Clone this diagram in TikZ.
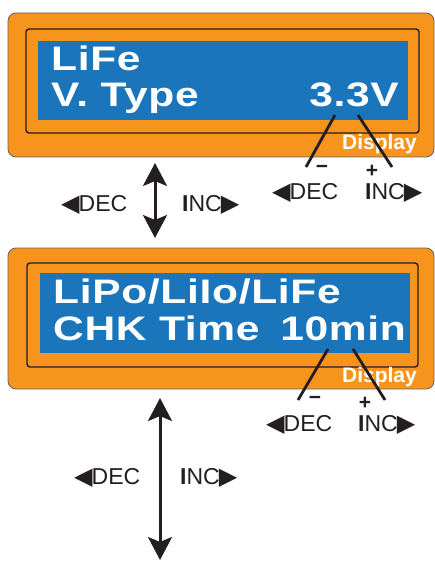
\documentclass[tikz,border=0pt]{standalone}
\usepackage{fontspec}
\setmainfont{Liberation Sans}
\newfontfamily\lcdfont{Liberation Sans}[FakeStretch=1.25,LetterSpace=2]
\newfontfamily\symfont{DejaVu Sans}
\usetikzlibrary{arrows.meta,positioning}
\definecolor{chOrange}{RGB}{247,148, 29}
\definecolor{chBlue}  {RGB}{ 27,117,187}
\definecolor{chInk}   {RGB}{ 35, 31, 32}
\newcommand{\declab}{{\symfont\fontsize{24}{24}\selectfont ◀}\kern-1pt DEC}
\newcommand{\inclab}{{\bfseries I}NC\kern-1pt{\symfont\fontsize{24}{24}\selectfont ▶}}

\begin{document}
\begin{tikzpicture}[x=1pt,y=-1pt,
  casing/.style={fill=chOrange,draw=chInk!70,line width=0.8pt,rounded corners=8pt},
  bezel/.style={draw=chInk,line width=1.4pt,rounded corners=3pt},
  screen/.style={fill=chBlue},
  lcd/.style={font=\lcdfont\bfseries\fontsize{34}{34}\selectfont,text=white,inner sep=0pt},
  tag/.style={font=\bfseries\fontsize{21}{21}\selectfont,text=white,inner sep=0pt,anchor=base east},
  keylab/.style={font=\fontsize{23}{23}\selectfont,text=chInk,inner sep=0pt,anchor=west},
  sign/.style={font=\bfseries\fontsize{21}{21}\selectfont,text=chInk,inner sep=0pt},
  lead/.style={line width=2.8pt,chInk},
  updown/.style={line width=3pt,chInk,
    {Stealth[length=23pt,width=24pt,inset=5pt]}-{Stealth[length=23pt,width=24pt,inset=5pt]}}
]
\useasboundingbox (0,0) rectangle (435,561);
% Upper panel: cell type
\draw[casing] (8,13) rectangle (434,157);
\draw[bezel] (26,29) rectangle (419,133);
\fill[screen] (38,41) rectangle (408,120);
\node[lcd,anchor=base west] (typeA) at (51,71) {LiFe};
\node[lcd,anchor=base west] (typeB) at (51,107) {V. Type};
\node[lcd,anchor=base east] (typeV) at (399,107) {3.3V};
\node[tag] (dispA) at (417,150) {Display};
% Lower panel: check time
\draw[casing] (8,248) rectangle (434,389);
\draw[bezel] (27,263) rectangle (418,367);
\fill[screen] (40,273) rectangle (410,353);
\node[lcd,anchor=base west] (chkA) at (53,303) {LiPo/LiIo/LiFe};
\node[lcd,anchor=base west] (chkB) at (53,340) {CHK Time};
\node[lcd,anchor=base east] (chkV) at (406,340) {10min};
\node[tag] (dispB) at (417,382) {Display};
% Leads from the value to the keys
\coordinate (vA1) at (335,115);
\coordinate (vA2) at (306,167);
\coordinate (vA3) at (358,115);
\coordinate (vA4) at (392,167);
\draw[lead] (vA1) -- (vA2);
\draw[lead] (vA3) -- (vA4);
\node[sign] (minA) at (322,169) {−};
\node[sign] (plusA) at (372,171) {+};
\node[keylab] (decA) at (272,193) {\declab};
\node[keylab] (incA) at (365,193) {\inclab};
\coordinate (vB1) at (328,349);
\coordinate (vB2) at (298,400);
\coordinate (vB3) at (353,349);
\coordinate (vB4) at (385,400);
\draw[lead] (vB1) -- (vB2);
\draw[lead] (vB3) -- (vB4);
\node[sign] (minB) at (315,400) {−};
\node[sign] (plusB) at (365,403) {+};
\node[keylab] (decB) at (266,425) {\declab};
\node[keylab] (incB) at (358,425) {\inclab};
% Scroll arrows
\coordinate (upA) at (155,163);
\coordinate (dnA) at (155,238);
\draw[updown] (upA) -- (dnA);
\node[keylab] (decC) at (61,205) {\declab};
\node[keylab] (incC) at (182,205) {\inclab};
\coordinate (upB) at (160,398);
\coordinate (dnB) at (160,560);
\draw[updown] (upB) -- (dnB);
\node[keylab] (decD) at (74,478) {\declab};
\node[keylab] (incD) at (180,478) {\inclab};
\end{tikzpicture}
\end{document}
